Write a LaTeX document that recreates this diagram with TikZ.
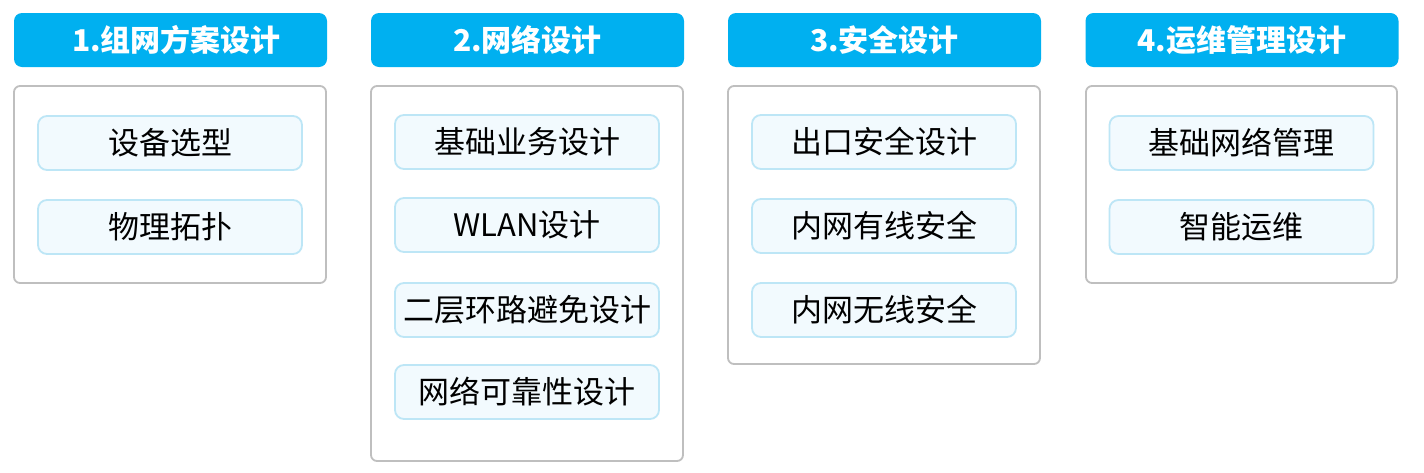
\documentclass[tikz,border=0pt]{standalone}
\usepackage{fontspec}
\setmainfont{Noto Sans CJK SC}
\definecolor{headblue}{HTML}{00B0F0}
\definecolor{itemfill}{HTML}{F2FAFE}
\definecolor{itemline}{HTML}{BDE6F6}
\definecolor{frameline}{HTML}{BFBFBF}
\begin{document}
\begin{tikzpicture}[x=1pt,y=-1pt,
  header/.style={fill=headblue,draw=none,rounded corners=8pt,text=white,
    font=\fontsize{30}{34}\selectfont\bfseries,minimum width=313pt,minimum height=54pt,inner sep=0pt},
  frame/.style={draw=frameline,line width=1.8pt,rounded corners=6pt,fill=white},
  item/.style={fill=itemfill,draw=itemline,line width=1.8pt,rounded corners=9pt,
    font=\fontsize{31}{34}\selectfont,minimum width=264pt,minimum height=54pt,inner sep=0pt}]
\useasboundingbox (0,0) rectangle (1424,472);
\fill[white] (0,0) rectangle (1424,472);

% column headers
\node[header] (h1) at (170.5,40) {\hspace*{12pt}1.组网方案设计};
\node[header] (h2) at (527.5,40) {2.网络设计};
\node[header] (h3) at (884.5,40) {3.安全设计};
\node[header] (h4) at (1242,40) {4.运维管理设计};

% grey frames
\draw[frame] (14,86) rectangle (326,283);
\draw[frame] (371,86) rectangle (683,461);
\draw[frame] (728,86) rectangle (1040,364);
\draw[frame] (1086,86) rectangle (1397,283);

% column 1
\node[item] (a1) at (170,143) {设备选型};
\node[item] (a2) at (170,227) {物理拓扑};
% column 2
\node[item] (b1) at (527,142) {基础业务设计};
\node[item] (b2) at (527,225) {WLAN设计};
\node[item] (b3) at (527,310) {二层环路避免设计};
\node[item] (b4) at (527,392) {网络可靠性设计};
% column 3
\node[item] (c1) at (884,142) {出口安全设计};
\node[item] (c2) at (884,226) {内网有线安全};
\node[item] (c3) at (884,310) {内网无线安全};
% column 4
\node[item] (d1) at (1241.5,143) {基础网络管理};
\node[item] (d2) at (1241.5,227) {智能运维};
\end{tikzpicture}
\end{document}
